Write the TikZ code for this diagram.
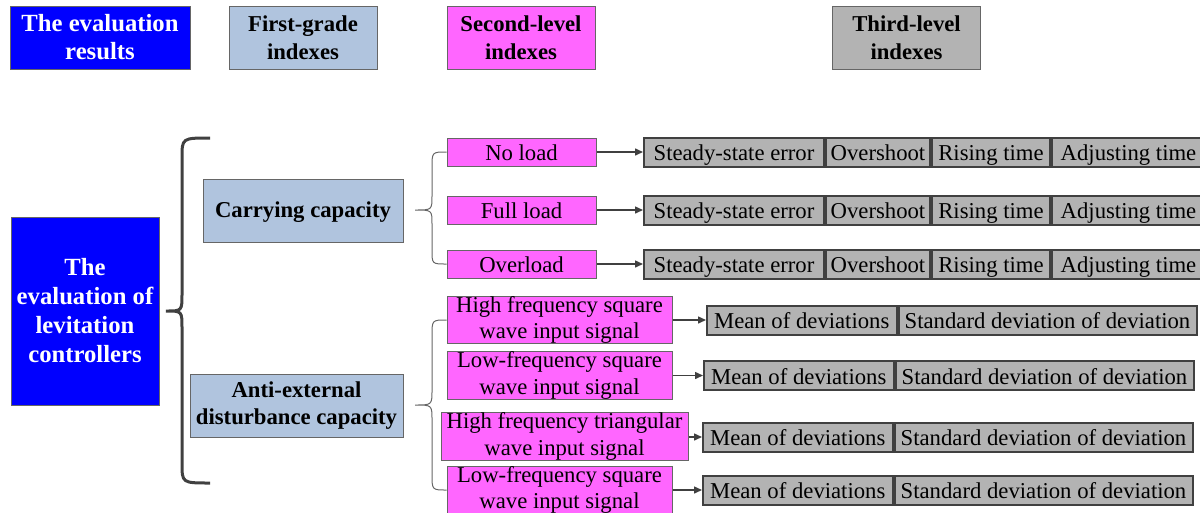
\documentclass[tikz,border=0pt]{standalone}
\usepackage{fontspec}
\setmainfont{Liberation Serif}
\usetikzlibrary{arrows.meta}
\definecolor{evalblue}{RGB}{0,0,255}
\definecolor{gradeblue}{RGB}{176,196,222}
\definecolor{levelpink}{RGB}{255,102,255}
\definecolor{levelgray}{RGB}{179,179,179}
\definecolor{linegray}{RGB}{64,64,64}
\tikzset{
  box/.style={draw=black!60, line width=1pt, inner sep=0pt, align=center, font=\fontsize{22.7}{26.5}\selectfont},
  oneline/.style={text height=19pt, text depth=2pt},
  headbox/.style={box, minimum width=148pt, minimum height=63pt, font=\bfseries\fontsize{22.7}{28}\selectfont},
  evalbox/.style={box, fill=evalblue, text=white, font=\bfseries\fontsize{24.7}{29}\selectfont},
  gradebox/.style={box, fill=gradeblue, minimum height=63pt, font=\bfseries\fontsize{22.7}{27}\selectfont},
  secondbox/.style={box, fill=levelpink},
  thirdbox/.style={box, oneline, fill=levelgray, draw=linegray, line width=2pt, minimum height=29pt, anchor=west},
  arr/.style={draw=linegray, line width=1.5pt, -{Triangle[length=8pt,width=7pt]}},
  bigbrace/.style={draw=linegray, line width=3pt},
  smallbrace/.style={draw=black!60, line width=1pt}
}
\begin{document}
\begin{tikzpicture}[x=1pt,y=-1pt]
  \clip (0,0) rectangle (1200,512);
  % headers
  \node[headbox, fill=evalblue, text=white, minimum width=180pt, font=\bfseries\fontsize{24.7}{28}\selectfont] (hres) at (100,37.5) {The evaluation\\results};
  \node[headbox, fill=gradeblue] (hfirst) at (303,37.5) {First-grade\\indexes};
  \node[headbox, fill=levelpink] (hsecond) at (521,37.5) {Second-level\\indexes};
  \node[headbox, fill=levelgray] (hthird) at (906.5,37.5) {Third-level\\indexes};
  % root and first-grade indexes
  \node[evalbox, minimum width=148pt, minimum height=188pt] (root) at (85,311) {The\\evaluation of\\levitation\\controllers};
  \node[gradebox, text height=17pt, text depth=3pt, minimum width=200pt] (carry) at (303,210.5) {Carrying capacity};
  \node[gradebox, minimum width=213pt] (anti) at (296.5,405.5) {Anti-external\\disturbance capacity};
  % second-level indexes
  \node[secondbox, oneline, minimum width=149pt, minimum height=28pt] (noload) at (521.5,152) {No load};
  \node[secondbox, oneline, minimum width=149pt, minimum height=28pt] (fullload) at (521.5,210) {Full load};
  \node[secondbox, oneline, minimum width=149pt, minimum height=28pt] (overload) at (521.5,264) {Overload};
  \node[secondbox, minimum width=225pt, minimum height=44pt] (hfsquare) at (559.5,320) {High frequency square\\wave input signal};
  \node[secondbox, minimum width=225pt, minimum height=47pt] (lfsquare) at (559.5,375.5) {Low-frequency square\\wave input signal};
  \node[secondbox, minimum width=247pt, minimum height=45pt] (hftriangle) at (564.5,436.5) {High frequency triangular\\wave input signal};
  \node[secondbox, minimum width=225pt, minimum height=46pt] (lfsquaretwo) at (559.5,490) {Low-frequency square\\wave input signal};
  % third-level indexes
  \foreach \i/\y in {1/152,2/210,3/264}{
    \node[thirdbox, minimum width=180pt] (error\i) at (643,\y) {Steady-state error};
    \node[thirdbox, minimum width=104pt] (over\i) at (error\i.east) {Overshoot};
    \node[thirdbox, minimum width=118pt] (rise\i) at (over\i.east) {Rising time};
    \node[thirdbox, minimum width=153pt] (adjust\i) at (rise\i.east) {Adjusting time};
  }
  \foreach \i/\x/\y in {1/706/320,2/703/375.5,3/702/437,4/702/490}{
    \node[thirdbox, minimum width=189.5pt] (mean\i) at (\x,\y) {Mean of deviations};
    \node[thirdbox, minimum width=298pt] (std\i) at (mean\i.east) {Standard deviation of deviation};
  }
  % arrows
  \foreach \a/\b in {noload/error1,fullload/error2,overload/error3,hfsquare/mean1,lfsquare/mean2,hftriangle/mean3,lfsquaretwo/mean4}
    \draw[arr] (\b.west -| \a.east) -- (\b.west);
  % braces
  \draw[bigbrace] (210,138) .. controls (182,138) .. (182,158) -- (182,294)
    .. controls (182,311) .. (166,311) .. controls (182,311) .. (182,328)
    -- (182,463) .. controls (182,483) .. (210,483);
  \draw[smallbrace] (noload.west) .. controls (432,152) .. (432,168) -- (432,196)
    .. controls (432,210) .. (415,210) .. controls (432,210) .. (432,224)
    -- (432,250) .. controls (432,264) .. (overload.west);
  \draw[smallbrace] (hfsquare.west) .. controls (432,320) .. (432,336) -- (432,390)
    .. controls (432,405) .. (415,405) .. controls (432,405) .. (432,420)
    -- (432,474) .. controls (432,490) .. (lfsquaretwo.west);
\end{tikzpicture}
\end{document}
